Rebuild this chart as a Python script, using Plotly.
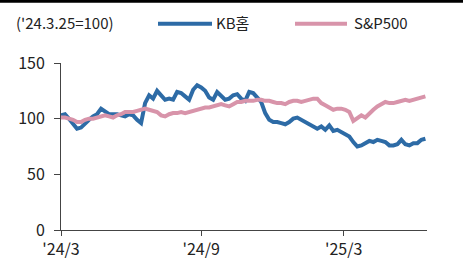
import pandas as pd
import plotly.graph_objects as go

start_date = "2024-03-25"
n_points = 92
dates = pd.date_range(start_date, periods=n_points, freq="5D")

kb_home = [103, 104, 100, 96, 91, 92, 96, 99, 102, 104,
           109, 106, 104, 104, 104, 103, 102, 104, 103, 99,
           96, 114, 121, 118, 125, 121, 117, 118, 117, 124,
           123, 120, 117, 126, 130, 128, 125, 119, 117, 124,
           121, 117, 118, 121, 122, 118, 116, 124, 123, 119,
           115, 105, 99, 97, 97, 96, 95, 97, 100, 101,
           99, 97, 95, 94, 91, 93, 90, 94, 89, 90,
           88, 86, 84, 79, 75, 76, 78, 80, 79, 81,
           80, 79, 76, 76, 77, 81, 77, 76, 78, 78,
           81, 82]

sp500 = [101, 101, 100, 99, 97, 97, 99, 100, 100, 101,
         102, 103, 102, 101, 103, 104, 106, 106, 106, 107,
         108, 109, 108, 107, 106, 103, 102, 104, 105, 105,
         106, 105, 106, 107, 108, 109, 110, 110, 111, 112,
         113, 112, 111, 113, 115, 115, 116, 116, 116, 117,
         117, 116, 116, 115, 114, 114, 113, 115, 116, 116,
         115, 116, 117, 118, 118, 114, 112, 110, 108, 109,
         109, 108, 106, 98, 101, 103, 101, 105, 108, 111,
         113, 115, 114, 114, 115, 116, 117, 116, 117, 118,
         119, 120]

series_names = ["KB홈", "S&P500"]
series_colors = ["#2d6ba6", "#d894aa"]
base_note = "('24.3.25=100)"

tick_dates = ["2024-03-25", "2024-09-16", "2025-03-13"]
tick_labels = ["'24/3", "'24/9", "'25/3"]
x_range = ["2024-03-25", "2025-06-25"]
y_ticks = [0, 50, 100, 150]

FONT = "Noto Sans CJK KR, Noto Sans, sans-serif"
TXT = "#222222"

# plot area in pixels
L, R, T, B = 61, 427, 63.3, 230
W, H = 467, 262


def px(x):
    return (x - L) / (R - L)


def py(y):
    return (B - y) / (B - T)


fig = go.Figure()
for name, vals, col in zip(series_names, [kb_home, sp500], series_colors):
    fig.add_trace(go.Scatter(x=dates, y=vals, mode="lines", name=name,
                             line=dict(color=col, width=4),
                             showlegend=False, hoverinfo="skip"))

shapes = [
    dict(type="rect", xref="paper", yref="paper", x0=px(0), x1=px(463),
         y0=py(3.2), y1=py(0), fillcolor="#000000", line=dict(width=0),
         layer="above"),
    dict(type="line", xref="paper", yref="paper", x0=px(158), x1=px(212),
         y0=py(24), y1=py(24), line=dict(color=series_colors[0], width=4)),
    dict(type="line", xref="paper", yref="paper", x0=px(295), x1=px(347),
         y0=py(24), y1=py(24), line=dict(color=series_colors[1], width=4)),
]

annotations = [
    dict(text=base_note, xref="paper", yref="paper", x=px(14), y=py(23),
         xanchor="left", yanchor="middle", showarrow=False,
         font=dict(family=FONT, size=15, color=TXT)),
    dict(text=series_names[0], xref="paper", yref="paper", x=px(214), y=py(23),
         xanchor="left", yanchor="middle", showarrow=False,
         font=dict(family=FONT, size=15, color=TXT)),
    dict(text=series_names[1], xref="paper", yref="paper", x=px(352), y=py(23),
         xanchor="left", yanchor="middle", showarrow=False,
         font=dict(family=FONT, size=15, color=TXT)),
]

fig.update_layout(
    width=W, height=H,
    margin=dict(l=L, r=W - R, t=T, b=H - B, pad=0),
    paper_bgcolor="white", plot_bgcolor="white",
    font=dict(family=FONT, size=15, color=TXT),
    shapes=shapes, annotations=annotations,
    showlegend=False,
    xaxis=dict(type="date", range=x_range, tickvals=tick_dates, ticktext=tick_labels,
               showgrid=False, zeroline=False, showline=True, linecolor="#444444",
               linewidth=1, ticks="outside", ticklen=5, tickcolor="#444444",
               automargin=False,
               tickfont=dict(family=FONT, size=16, color=TXT)),
    yaxis=dict(range=[0, 150], tickvals=y_ticks, showgrid=False, zeroline=False,
               showline=True, linecolor="#444444", linewidth=1, ticks="outside",
               ticklen=6, tickcolor="#444444", ticklabelstandoff=6,
               automargin=False,
               tickfont=dict(family=FONT, size=16, color=TXT)),
)

fig.write_html("out.html", config={"displayModeBar": False},
               post_script="document.body.style.margin='0';document.body.style.overflow='hidden';")
